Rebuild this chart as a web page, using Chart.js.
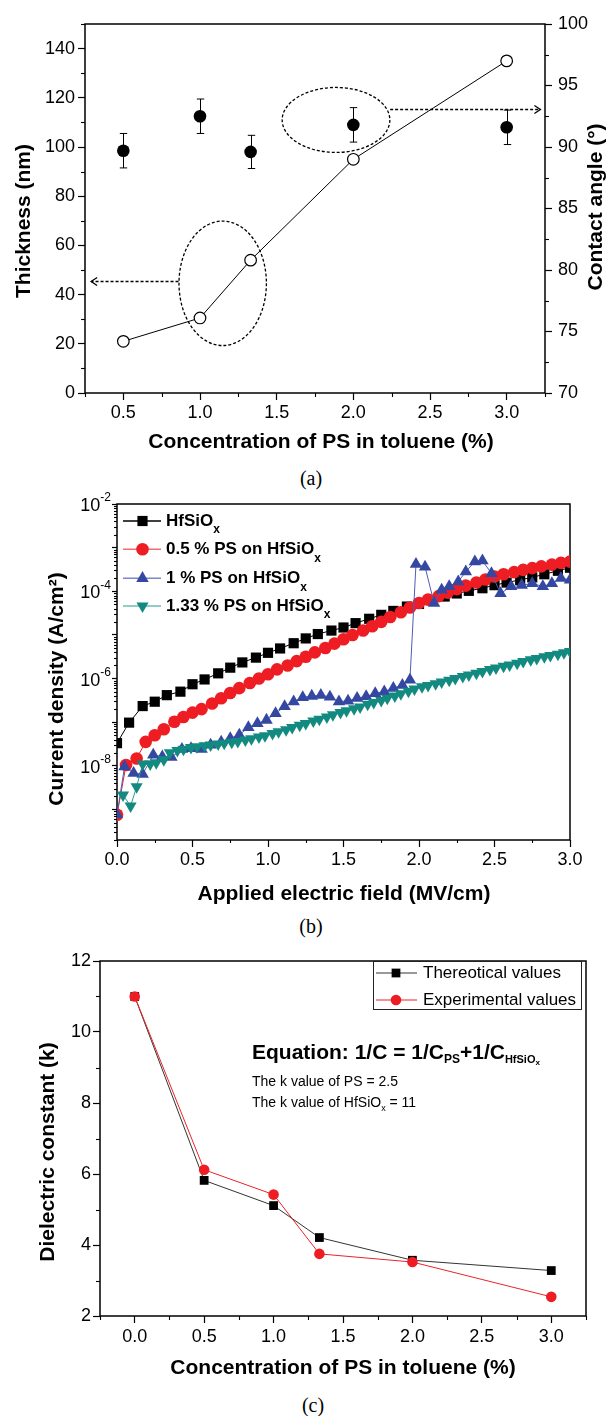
<!DOCTYPE html>
<html><head><meta charset="utf-8">
<script src="https://cdn.jsdelivr.net/npm/chart.js@4.4.1/dist/chart.umd.min.js"></script>
<style>
html,body{margin:0;padding:0;background:#fff;}
#page{position:relative;width:608px;height:1416px;overflow:hidden;background:#fff;}
canvas{position:absolute;left:0;}
.cap{position:absolute;width:80px;text-align:center;font-family:'Liberation Serif','Times New Roman',serif;font-size:20px;line-height:24px;color:#000;}
</style></head><body>
<div id="page">
<canvas id="ca" width="608" height="462" style="top:0px"></canvas>
<div class="cap" style="left:271px;top:466px">(a)</div>
<canvas id="cb" width="608" height="420" style="top:490px"></canvas>
<div class="cap" style="left:271px;top:914px">(b)</div>
<canvas id="cc" width="608" height="450" style="top:940px"></canvas>
<div class="cap" style="left:273px;top:1393px">(c)</div>
</div>
<script>
// ---------------- DATA ----------------
// Panel (a): concentration of PS in toluene (%)
const concA = [0.5, 1.0, 1.33, 2.0, 3.0];
const thicknessNm = [21, 30.5, 54, 95, 135];
const contactAngleDeg = [89.7, 92.5, 89.6, 91.8, 91.6];
const contactAngleErr = [1.4, 1.4, 1.35, 1.4, 1.4];
const aXTicks = [0.5, 1.0, 1.5, 2.0, 2.5, 3.0];
const aYTicks = [0, 20, 40, 60, 80, 100, 120, 140];
const aY1Ticks = [70, 75, 80, 85, 90, 95, 100];
const aXMinor = [0.25, 0.75, 1.25, 1.75, 2.25, 2.75, 3.25];
const aYMinor = [10, 30, 50, 70, 90, 110, 130, 150];
const aY1Minor = [72.5, 77.5, 82.5, 87.5, 92.5, 97.5];

// Panel (b): applied field (MV/cm) and log10 of current density (A/cm^2)
const fieldHf = [0,0.08,0.17,0.25,0.33,0.42,0.5,0.58,0.67,0.75,0.83,0.92,1.0,1.08,1.17,1.25,1.33,1.42,1.5,1.58,1.67,1.75,1.83,1.92,2.0,2.08,2.17,2.25,2.33,2.42,2.5,2.58,2.67,2.75,2.83,2.92,3.0];
const log10JHf = [-7.48,-7.01,-6.63,-6.53,-6.38,-6.30,-6.13,-6.02,-5.88,-5.75,-5.63,-5.52,-5.41,-5.31,-5.19,-5.08,-4.98,-4.90,-4.83,-4.73,-4.63,-4.54,-4.45,-4.35,-4.29,-4.20,-4.12,-4.05,-3.99,-3.93,-3.86,-3.80,-3.74,-3.68,-3.61,-3.53,-3.46];
const fieldPs05 = [0,0.06,0.13,0.19,0.25,0.31,0.38,0.44,0.5,0.56,0.63,0.69,0.75,0.81,0.88,0.94,1.0,1.06,1.13,1.19,1.25,1.31,1.38,1.44,1.5,1.56,1.63,1.69,1.75,1.81,1.88,1.94,2.0,2.06,2.13,2.19,2.25,2.31,2.38,2.44,2.5,2.56,2.63,2.69,2.75,2.81,2.88,2.94,3.0];
const log10JPs05 = [-9.12,-7.98,-7.83,-7.45,-7.30,-7.16,-6.99,-6.88,-6.78,-6.70,-6.57,-6.45,-6.33,-6.22,-6.10,-6.00,-5.90,-5.79,-5.70,-5.60,-5.50,-5.40,-5.30,-5.20,-5.10,-5.00,-4.90,-4.80,-4.70,-4.59,-4.48,-4.37,-4.27,-4.19,-4.11,-4.03,-3.95,-3.87,-3.80,-3.73,-3.66,-3.61,-3.56,-3.51,-3.47,-3.43,-3.39,-3.35,-3.32];
const fieldPs1 = [0,0.05,0.11,0.17,0.24,0.30,0.36,0.43,0.49,0.56,0.62,0.69,0.75,0.81,0.87,0.93,0.99,1.05,1.11,1.17,1.23,1.29,1.35,1.41,1.47,1.53,1.59,1.65,1.71,1.77,1.83,1.89,1.94,1.98,2.04,2.10,2.15,2.20,2.26,2.31,2.37,2.42,2.48,2.54,2.61,2.68,2.75,2.82,2.88,2.94,3.0];
const log10JPs1 = [-9.12,-8.02,-8.17,-8.19,-7.75,-7.79,-7.80,-7.62,-7.60,-7.62,-7.52,-7.45,-7.37,-7.29,-7.12,-7.03,-6.95,-6.80,-6.64,-6.53,-6.43,-6.40,-6.38,-6.42,-6.53,-6.51,-6.45,-6.41,-6.34,-6.30,-6.22,-6.15,-6.03,-3.38,-3.44,-4.27,-3.97,-3.89,-3.78,-3.55,-3.32,-3.30,-3.59,-4.05,-3.89,-3.86,-3.82,-3.89,-3.82,-3.70,-3.74];
const fieldPs133 = [0.04,0.09,0.13,0.17,0.22,0.26,0.31,0.35,0.40,0.44,0.49,0.53,0.58,0.62,0.67,0.71,0.76,0.80,0.85,0.89,0.94,0.98,1.03,1.07,1.12,1.16,1.21,1.25,1.30,1.34,1.39,1.43,1.48,1.52,1.57,1.61,1.66,1.70,1.75,1.79,1.84,1.88,1.93,1.97,2.02,2.06,2.11,2.15,2.20,2.24,2.29,2.33,2.38,2.42,2.47,2.51,2.56,2.60,2.65,2.69,2.74,2.78,2.83,2.87,2.92,2.96,3.00];
const log10JPs133 = [-8.67,-8.92,-8.48,-7.96,-7.96,-7.93,-7.86,-7.70,-7.65,-7.62,-7.58,-7.56,-7.54,-7.52,-7.50,-7.48,-7.46,-7.44,-7.41,-7.38,-7.34,-7.31,-7.26,-7.22,-7.17,-7.12,-7.07,-7.03,-6.97,-6.93,-6.88,-6.83,-6.78,-6.74,-6.69,-6.65,-6.59,-6.55,-6.50,-6.45,-6.40,-6.35,-6.29,-6.24,-6.19,-6.16,-6.12,-6.08,-6.04,-6.00,-5.95,-5.92,-5.88,-5.84,-5.79,-5.76,-5.72,-5.69,-5.65,-5.61,-5.57,-5.54,-5.50,-5.47,-5.44,-5.41,-5.38];
const bSeriesNames = ['HfSiO', '0.5 % PS on HfSiO', '1 % PS on HfSiO', '1.33 % PS on HfSiO'];
const bXTicks = [0, 0.5, 1.0, 1.5, 2.0, 2.5, 3.0];
const bXMinor = [0.25, 0.75, 1.25, 1.75, 2.25, 2.75];
const bYDecadeExps = [-9, -8, -7, -6, -5, -4, -3, -2];
const bYLabelExps = [-2, -4, -6, -8];

// Panel (c)
const concC = [0, 0.5, 1.0, 1.33, 2.0, 3.0];
const kTheoretical = [11, 5.82, 5.11, 4.21, 3.57, 3.28];
const kExperimental = [11, 6.12, 5.42, 3.75, 3.52, 2.54];
const cXTicks = [0, 0.5, 1.0, 1.5, 2.0, 2.5, 3.0];
const cXMinor = [-0.25, 0.25, 0.75, 1.25, 1.75, 2.25, 2.75, 3.25];
const cYTicks = [2, 4, 6, 8, 10, 12];
const cYMinor = [3, 5, 7, 9, 11];
const cSeriesNames = ['Thereotical values', 'Experimental values'];

// ---------------- HELPERS ----------------
const FONT = "'Liberation Sans', Arial, Helvetica, sans-serif";
const toPts = (xs, ys) => xs.map((x, i) => ({ x, y: ys[i] }));
const toPtsLog = (xs, ls) => xs.map((x, i) => ({ x, y: Math.pow(10, ls[i]) }));
const fixedTicks = vals => s => { s.ticks = vals.map(v => ({ value: v })); };

function scale(extra) {
  const s = {
    border: { display: false },
    grid: { display: true, drawOnChartArea: false, drawTicks: true, tickLength: extra.tickLength || 7, tickWidth: 1.2, tickColor: '#000', color: '#000' },
    ticks: { color: '#000', font: { family: FONT, size: 18 }, autoSkip: false, maxRotation: 0, minRotation: 0, padding: extra.pad || 3, callback: extra.cb || (v => String(v)) },
    title: { display: false }
  };
  delete extra.tickLength; delete extra.pad; delete extra.cb;
  return Object.assign(s, extra);
}

function framePlugin(lw) {
  return { id: 'frame', beforeDatasetsDraw(chart) {
    const { ctx, chartArea: a } = chart;
    ctx.save(); ctx.strokeStyle = '#000'; ctx.lineWidth = lw;
    ctx.strokeRect(a.left, a.top, a.right - a.left, a.bottom - a.top);
    ctx.restore();
  }};
}

function minorTicksPlugin(map, len) {
  return { id: 'minorTicks', afterDraw(chart) {
    const ctx = chart.ctx;
    ctx.save(); ctx.strokeStyle = '#000'; ctx.lineWidth = 1.1;
    for (const id in map) {
      const s = chart.scales[id];
      for (const v of map[id]) {
        const p = Math.round(s.getPixelForValue(v)) + 0.5;
        ctx.beginPath();
        if (s.isHorizontal()) { ctx.moveTo(p, s.top); ctx.lineTo(p, s.top + len); }
        else if (s.position === 'left') { ctx.moveTo(s.right, p); ctx.lineTo(s.right - len, p); }
        else { ctx.moveTo(s.left, p); ctx.lineTo(s.left + len, p); }
        ctx.stroke();
      }
    }
    ctx.restore();
  }};
}

function titlesPlugin(items) {
  return { id: 'titles', afterDraw(chart) {
    const ctx = chart.ctx;
    for (const t of items) {
      ctx.save();
      ctx.translate(t.x, t.y); ctx.rotate(t.rot || 0);
      ctx.fillStyle = '#000'; ctx.textAlign = 'center'; ctx.textBaseline = 'middle';
      ctx.font = 'bold 21px ' + FONT;
      ctx.fillText(t.text, 0, 0);
      ctx.restore();
    }
  }};
}

function drawRich(ctx, parts, x, y) {
  let cx = x;
  for (const p of parts) {
    ctx.font = p.f;
    ctx.fillText(p.t, cx, y + (p.dy || 0));
    cx += ctx.measureText(p.t).width;
  }
}

// ---------------- PANEL (a) ----------------
const annotA = {
  ellipses: [{ cx: 1.887, cy: 111, rx: 0.351, ry: 13.2 }, { cx: 1.148, cy: 44.6, rx: 0.285, ry: 25.3 }],
  arrows: [{ x0: 2.24, x1: 3.22, y: 115.4 }, { x0: 0.86, x1: 0.29, y: 45.6 }]
};

const errorBarsA = { id: 'errBars', beforeDatasetsDraw(chart) {
  const ctx = chart.ctx, xs = chart.scales.x, ys = chart.scales.y1;
  ctx.save(); ctx.strokeStyle = '#000'; ctx.lineWidth = 1;
  concA.forEach((c, i) => {
    const x = Math.round(xs.getPixelForValue(c)) + 0.5;
    const yt = ys.getPixelForValue(contactAngleDeg[i] + contactAngleErr[i]);
    const yb = ys.getPixelForValue(contactAngleDeg[i] - contactAngleErr[i]);
    ctx.beginPath();
    ctx.moveTo(x, yt); ctx.lineTo(x, yb);
    ctx.moveTo(x - 3.7, yt); ctx.lineTo(x + 3.7, yt);
    ctx.moveTo(x - 3.7, yb); ctx.lineTo(x + 3.7, yb);
    ctx.stroke();
  });
  ctx.restore();
}};

const annotPluginA = { id: 'annotA', afterDatasetsDraw(chart) {
  const ctx = chart.ctx, xs = chart.scales.x, ys = chart.scales.y;
  ctx.save(); ctx.strokeStyle = '#000'; ctx.lineWidth = 1.3;
  for (const e of annotA.ellipses) {
    const cx = xs.getPixelForValue(e.cx), cy = ys.getPixelForValue(e.cy);
    const rx = Math.abs(xs.getPixelForValue(e.cx + e.rx) - cx), ry = Math.abs(ys.getPixelForValue(e.cy + e.ry) - cy);
    ctx.setLineDash([3, 2]);
    ctx.beginPath(); ctx.ellipse(cx, cy, rx, ry, 0, 0, Math.PI * 2); ctx.stroke();
  }
  for (const a of annotA.arrows) {
    const x0 = xs.getPixelForValue(a.x0), x1 = xs.getPixelForValue(a.x1), y = Math.round(ys.getPixelForValue(a.y)) + 0.5;
    ctx.setLineDash([3, 2]);
    ctx.beginPath(); ctx.moveTo(x0, y); ctx.lineTo(x1, y); ctx.stroke();
    ctx.setLineDash([]);
    const d = Math.sign(x1 - x0);
    ctx.beginPath(); ctx.moveTo(x1 - d * 6, y - 4); ctx.lineTo(x1, y); ctx.lineTo(x1 - d * 6, y + 4); ctx.stroke();
  }
  ctx.restore();
}};

new Chart(document.getElementById('ca'), {
  type: 'line',
  data: { datasets: [
    { label: 'Thickness (nm)', data: toPts(concA, thicknessNm), yAxisID: 'y', borderColor: '#000', borderWidth: 1,
      pointStyle: 'circle', pointRadius: 5.8, pointBackgroundColor: '#fff', pointBorderColor: '#000', pointBorderWidth: 1.2, order: 2 },
    { label: 'Contact angle', data: toPts(concA, contactAngleDeg), yAxisID: 'y1', showLine: false,
      pointStyle: 'circle', pointRadius: 6.3, pointBackgroundColor: '#000', pointBorderColor: '#000', pointBorderWidth: 0, order: 1 }
  ]},
  options: {
    responsive: false, animation: false, devicePixelRatio: 1,
    layout: { padding: { top: 24, left: 0, right: 0, bottom: 0 } },
    plugins: { legend: { display: false }, tooltip: { enabled: false } },
    scales: {
      x: scale({ type: 'linear', position: 'bottom', min: 0.25, max: 3.25, pad: 2, cb: v => v.toFixed(1),
                 afterBuildTicks: fixedTicks(aXTicks), afterFit: s => { s.height = 69; } }),
      y: scale({ type: 'linear', position: 'left', min: 0, max: 150, pad: 3,
                 afterBuildTicks: fixedTicks(aYTicks), afterFit: s => { s.width = 85; } }),
      y1: scale({ type: 'linear', position: 'right', min: 70, max: 100, pad: 6,
                 afterBuildTicks: fixedTicks(aY1Ticks), afterFit: s => { s.width = 63; } })
    }
  },
  plugins: [framePlugin(1.5), errorBarsA, annotPluginA, minorTicksPlugin({ x: aXMinor, y: aYMinor, y1: aY1Minor }, 4),
    titlesPlugin([
      { text: 'Concentration of PS in toluene (%)', x: 321, y: 442 },
      { text: 'Thickness (nm)', x: 24, y: 221, rot: -Math.PI / 2 },
      { text: 'Contact angle (\u00B0)', x: 596, y: 207, rot: -Math.PI / 2 }
    ])]
});

// ---------------- PANEL (b) ----------------
const bStyles = [
  { color: '#000000', line: '#000000', legendLine: '#000000', style: 'rect', r: 7.2, rot: 0 },
  { color: '#ee1d24', line: '#ee1d24', legendLine: '#f26d6d', style: 'circle', r: 6.3, rot: 0 },
  { color: '#3448a2', line: '#4e5db5', legendLine: '#7d86c8', style: 'triangle', r: 7.2, rot: 0 },
  { color: '#138a80', line: '#2a9a90', legendLine: '#6cbcb5', style: 'triangle', r: 7, rot: 180 }
];
const bData = [toPtsLog(fieldHf, log10JHf), toPtsLog(fieldPs05, log10JPs05), toPtsLog(fieldPs1, log10JPs1), toPtsLog(fieldPs133, log10JPs133)];

const bMinor = [];
for (let e = -10; e <= -3; e++) for (let k = 2; k <= 9; k++) { const v = k * Math.pow(10, e); if (v >= 2e-10 && v <= 1e-2) bMinor.push(v); }

const supLabelsB = { id: 'supLabels', afterDraw(chart) {
  const s = chart.scales.y, ctx = chart.ctx;
  ctx.save(); ctx.fillStyle = '#000'; ctx.textBaseline = 'middle'; ctx.textAlign = 'left';
  for (const e of bYLabelExps) {
    const y = s.getPixelForValue(Math.pow(10, e));
    const ex = String(e);
    ctx.font = '18px ' + FONT; const wb = ctx.measureText('10').width;
    ctx.font = '12px ' + FONT; const we = ctx.measureText(ex).width;
    const x0 = 111 - wb - we;
    ctx.font = '18px ' + FONT; ctx.fillText('10', x0, y + 2);
    ctx.font = '12px ' + FONT; ctx.fillText(ex, x0 + wb, y - 6);
  }
  ctx.restore();
}};

const legendB = { id: 'legendB', afterDraw(chart) {
  const ctx = chart.ctx, rows = [31, 59.3, 88.3, 116];
  ctx.save();
  bSeriesNames.forEach((name, i) => {
    const st = bStyles[i], y = rows[i];
    ctx.strokeStyle = st.legendLine; ctx.lineWidth = 1.5;
    ctx.beginPath(); ctx.moveTo(123, y); ctx.lineTo(161, y); ctx.stroke();
    ctx.fillStyle = st.color; ctx.strokeStyle = st.color;
    Chart.helpers.drawPoint(ctx, { pointStyle: st.style, radius: st.r, rotation: st.rot, borderWidth: 0 }, 142.5, y);
    ctx.fillStyle = '#000'; ctx.textBaseline = 'middle'; ctx.textAlign = 'left';
    drawRich(ctx, [{ t: name, f: 'bold 17px ' + FONT }, { t: 'x', f: 'bold 12px ' + FONT, dy: 9 }], 166, y);
  });
  ctx.restore();
}};

new Chart(document.getElementById('cb'), {
  type: 'line',
  data: { datasets: bSeriesNames.map((n, i) => ({
    label: n + 'x', data: bData[i], borderColor: bStyles[i].line, borderWidth: 1,
    pointStyle: bStyles[i].style, pointRadius: bStyles[i].r, pointRotation: bStyles[i].rot,
    pointBackgroundColor: bStyles[i].color, pointBorderColor: bStyles[i].color, pointBorderWidth: 0, order: 4 - i
  })) },
  options: {
    responsive: false, animation: false, devicePixelRatio: 1,
    layout: { padding: { top: 14, left: 0, right: 38, bottom: 0 } },
    plugins: { legend: { display: false }, tooltip: { enabled: false } },
    scales: {
      x: scale({ type: 'linear', position: 'bottom', min: 0, max: 3, pad: 2, cb: v => v.toFixed(1),
                 afterBuildTicks: fixedTicks(bXTicks), afterFit: s => { s.height = 70; } }),
      y: scale({ type: 'logarithmic', position: 'left', min: 2e-10, max: 1e-2, pad: 3, tickLength: 5, cb: () => '',
                 afterBuildTicks: s => { s.ticks = bYDecadeExps.map(e => ({ value: Math.pow(10, e) })); },
                 afterFit: s => { s.width = 117; } })
    }
  },
  plugins: [framePlugin(1.5), minorTicksPlugin({ x: bXMinor, y: bMinor }, 3), supLabelsB, legendB,
    titlesPlugin([
      { text: 'Applied electric field (MV/cm)', x: 344, y: 404 },
      { text: 'Current density (A/cm\u00B2)', x: 57, y: 199, rot: -Math.PI / 2 }
    ])]
});

// ---------------- PANEL (c) ----------------
const cStyles = [
  { color: '#000000', line: '#333333', style: 'rect', r: 6.2 },
  { color: '#ee1d24', line: '#e8232a', style: 'circle', r: 5.3 }
];

const legendC = { id: 'legendC', afterDraw(chart) {
  const ctx = chart.ctx, rows = [33, 60];
  ctx.save();
  ctx.strokeStyle = '#222'; ctx.lineWidth = 1;
  ctx.strokeRect(373.5, 21.5, 208, 48);
  cSeriesNames.forEach((name, i) => {
    const st = cStyles[i], y = rows[i];
    ctx.strokeStyle = st.line; ctx.lineWidth = 1;
    ctx.beginPath(); ctx.moveTo(376, y); ctx.lineTo(417, y); ctx.stroke();
    ctx.fillStyle = st.color;
    Chart.helpers.drawPoint(ctx, { pointStyle: st.style, radius: st.r, rotation: 0, borderWidth: 0 }, 396, y);
    ctx.fillStyle = '#000'; ctx.textBaseline = 'middle'; ctx.textAlign = 'left';
    ctx.font = '17px ' + FONT; ctx.fillText(name, 423, y);
  });
  ctx.restore();
}};

const equationC = { id: 'equationC', afterDraw(chart) {
  const ctx = chart.ctx;
  ctx.save(); ctx.fillStyle = '#000'; ctx.textBaseline = 'alphabetic'; ctx.textAlign = 'left';
  const B = 'bold 21px ' + FONT;
  drawRich(ctx, [
    { t: 'Equation: 1/C = 1/C', f: B }, { t: 'PS', f: 'bold 12px ' + FONT, dy: 4 },
    { t: '+1/C', f: B }, { t: 'HfSiO', f: 'bold 11px ' + FONT, dy: 4 }, { t: 'x', f: 'bold 8px ' + FONT, dy: 6 }
  ], 252, 118.5);
  drawRich(ctx, [{ t: 'The k value of PS = 2.5', f: '14px ' + FONT }], 252, 145.7);
  drawRich(ctx, [{ t: 'The k value of HfSiO', f: '14px ' + FONT }, { t: 'x', f: '9px ' + FONT, dy: 4 }, { t: ' = 11', f: '14px ' + FONT }], 252, 166.7);
  ctx.restore();
}};

new Chart(document.getElementById('cc'), {
  type: 'line',
  data: { datasets: [
    { label: cSeriesNames[0], data: toPts(concC, kTheoretical), borderColor: cStyles[0].line, borderWidth: 1,
      pointStyle: 'rect', pointRadius: cStyles[0].r, pointBackgroundColor: '#000', pointBorderColor: '#000', pointBorderWidth: 0, order: 2 },
    { label: cSeriesNames[1], data: toPts(concC, kExperimental), borderColor: cStyles[1].line, borderWidth: 1,
      pointStyle: 'circle', pointRadius: cStyles[1].r, pointBackgroundColor: cStyles[1].color, pointBorderColor: cStyles[1].color, pointBorderWidth: 0, order: 1 }
  ]},
  options: {
    responsive: false, animation: false, devicePixelRatio: 1,
    layout: { padding: { top: 21, left: 0, right: 22, bottom: 0 } },
    plugins: { legend: { display: false }, tooltip: { enabled: false } },
    scales: {
      x: scale({ type: 'linear', position: 'bottom', min: -0.25, max: 3.25, pad: 3, cb: v => v.toFixed(1),
                 afterBuildTicks: fixedTicks(cXTicks), afterFit: s => { s.height = 74; } }),
      y: scale({ type: 'linear', position: 'left', min: 2, max: 12, pad: 2,
                 afterBuildTicks: fixedTicks(cYTicks), afterFit: s => { s.width = 100; } })
    }
  },
  plugins: [framePlugin(1.5), minorTicksPlugin({ x: cXMinor, y: cYMinor }, 4), legendC, equationC,
    titlesPlugin([
      { text: 'Concentration of PS in toluene (%)', x: 343, y: 428 },
      { text: 'Dielectric constant (k)', x: 48.5, y: 212, rot: -Math.PI / 2 }
    ])]
});
</script>
</body></html>
